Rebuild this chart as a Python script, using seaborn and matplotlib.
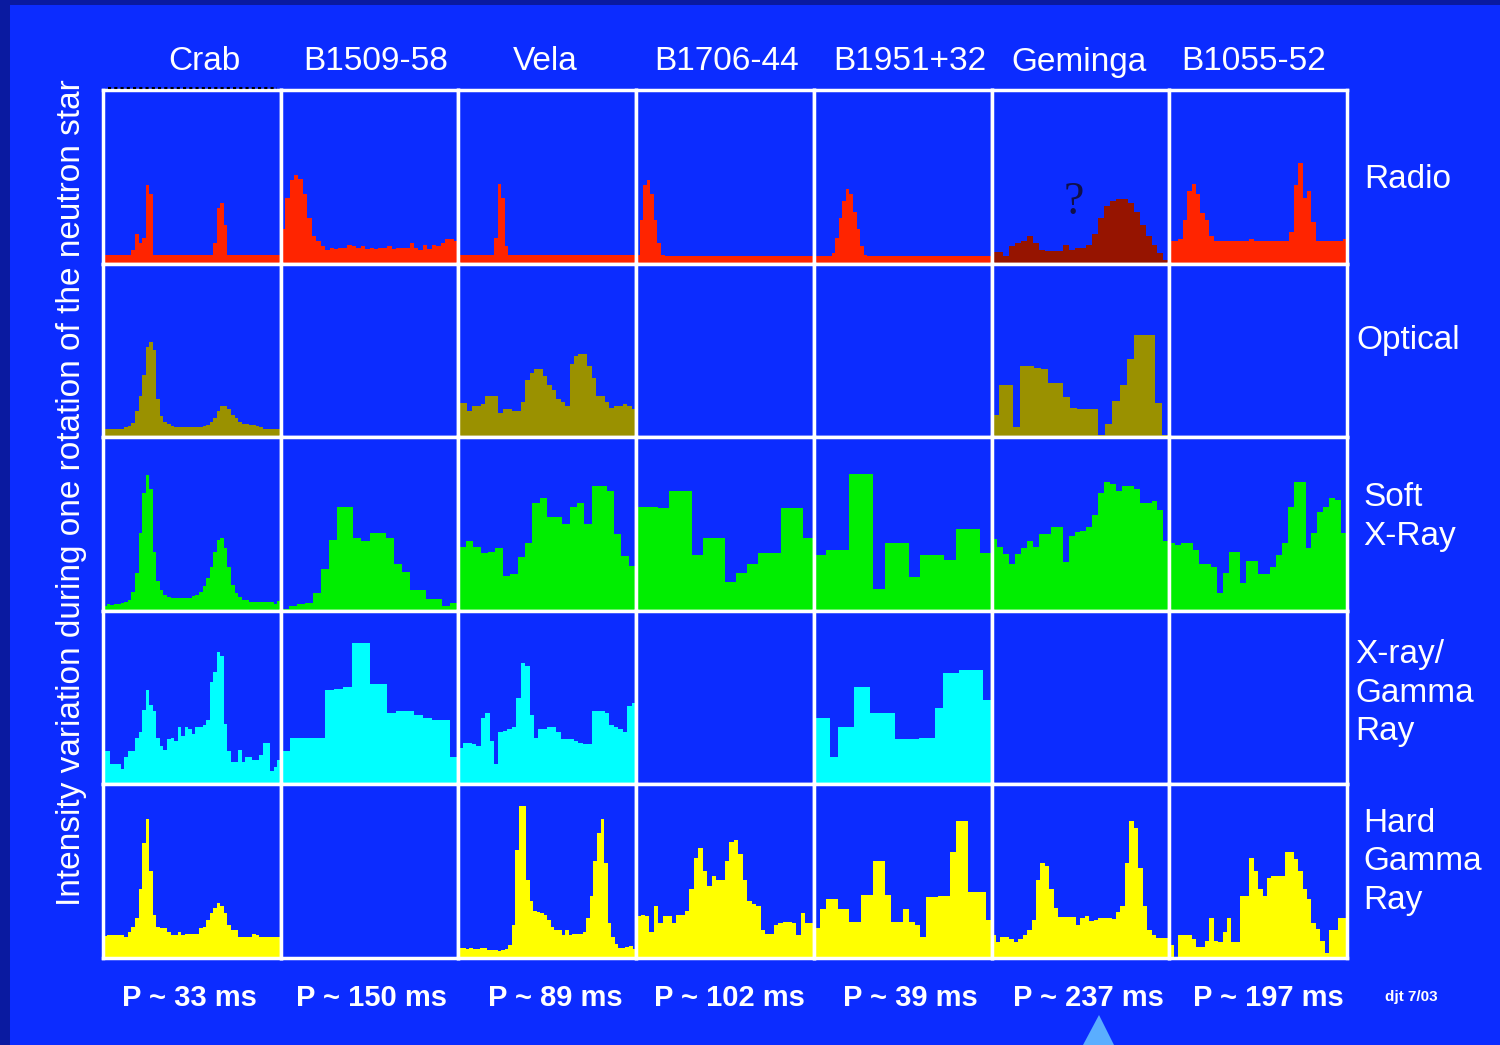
import numpy as np
import pandas as pd
import matplotlib.pyplot as plt
import seaborn as sns
from matplotlib.patches import Rectangle, Polygon
from matplotlib.lines import Line2D

pulsars = ['Crab', 'B1509-58', 'Vela', 'B1706-44', 'B1951+32', 'Geminga', 'B1055-52']
periods = ['P ~ 33 ms', 'P ~ 150 ms', 'P ~ 89 ms', 'P ~ 102 ms', 'P ~ 39 ms', 'P ~ 237 ms', 'P ~ 197 ms']
bands = ['Radio', 'Optical', 'Soft\nX-Ray', 'X-ray/\nGamma\nRay', 'Hard\nGamma\nRay']

# pulse profiles, intensity as a fraction of the panel height, equal phase bins
crab_radio = [0.05, 0.05, 0.05, 0.05, 0.05, 0.05, 0.05, 0.05, 0.08, 0.17,
              0.12, 0.15, 0.45, 0.40, 0.05, 0.05, 0.05, 0.05, 0.05, 0.05,
              0.05, 0.05, 0.05, 0.05, 0.05, 0.05, 0.05, 0.05, 0.05, 0.05,
              0.05, 0.12, 0.32, 0.35, 0.22, 0.05, 0.05, 0.05, 0.05, 0.05,
              0.05, 0.05, 0.05, 0.05, 0.05, 0.05, 0.05, 0.05, 0.05, 0.05]
b1509_radio = [0.20, 0.38, 0.48, 0.51, 0.49, 0.40, 0.26, 0.16, 0.13, 0.10,
               0.08, 0.09, 0.085, 0.09, 0.09, 0.11, 0.10, 0.09, 0.10, 0.085,
               0.09, 0.085, 0.09, 0.09, 0.10, 0.085, 0.09, 0.09, 0.09, 0.12,
               0.09, 0.08, 0.11, 0.085, 0.11, 0.10, 0.12, 0.14, 0.14, 0.13]
vela_radio = [0.05, 0.05, 0.05, 0.05, 0.05, 0.05, 0.05, 0.05, 0.05, 0.05,
              0.15, 0.46, 0.38, 0.10, 0.05, 0.05, 0.05, 0.05, 0.05, 0.05,
              0.05, 0.05, 0.05, 0.05, 0.05, 0.05, 0.05, 0.05, 0.05, 0.05,
              0.05, 0.05, 0.05, 0.05, 0.05, 0.05, 0.05, 0.05, 0.05, 0.05,
              0.05, 0.05, 0.05, 0.05, 0.05, 0.05, 0.05, 0.05, 0.05, 0.05]
b1706_radio = [0.05, 0.25, 0.45, 0.48, 0.40, 0.25, 0.12, 0.05, 0.045, 0.045,
               0.045, 0.045, 0.045, 0.045, 0.045, 0.045, 0.045, 0.045, 0.045, 0.045,
               0.045, 0.045, 0.045, 0.045, 0.045, 0.045, 0.045, 0.045, 0.045, 0.045,
               0.045, 0.045, 0.045, 0.045, 0.045, 0.045, 0.045, 0.045, 0.045, 0.045,
               0.045, 0.045, 0.045, 0.045, 0.045, 0.045, 0.045, 0.045, 0.045, 0.045]
b1951_radio = [0.045, 0.045, 0.045, 0.045, 0.045, 0.06, 0.15, 0.26, 0.36, 0.43,
               0.40, 0.30, 0.20, 0.10, 0.05, 0.045, 0.045, 0.045, 0.045, 0.045,
               0.045, 0.045, 0.045, 0.045, 0.045, 0.045, 0.045, 0.045, 0.045, 0.045,
               0.045, 0.045, 0.045, 0.045, 0.045, 0.045, 0.045, 0.045, 0.045, 0.045,
               0.045, 0.045, 0.045, 0.045, 0.045, 0.045, 0.045, 0.045, 0.045, 0.045]
geminga_radio = [0.068, 0.068, 0.044, 0.10, 0.12, 0.13, 0.16, 0.12, 0.08, 0.07,
                 0.07, 0.075, 0.11, 0.08, 0.09, 0.09, 0.11, 0.17, 0.26, 0.33,
                 0.36, 0.37, 0.37, 0.35, 0.30, 0.22, 0.16, 0.11, 0.06, 0.02]
b1055_radio = [0.13, 0.13, 0.14, 0.25, 0.42, 0.46, 0.40, 0.29, 0.25, 0.16,
               0.13, 0.13, 0.13, 0.13, 0.13, 0.13, 0.13, 0.13, 0.14, 0.13,
               0.13, 0.13, 0.13, 0.13, 0.13, 0.13, 0.13, 0.18, 0.45, 0.58,
               0.38, 0.42, 0.24, 0.13, 0.13, 0.13, 0.13, 0.13, 0.13, 0.14]

crab_optical = [0.045, 0.045, 0.045, 0.045, 0.045, 0.05, 0.06, 0.065, 0.08, 0.15,
                0.24, 0.36, 0.52, 0.55, 0.50, 0.22, 0.12, 0.09, 0.075, 0.065,
                0.06, 0.06, 0.06, 0.06, 0.06, 0.06, 0.06, 0.06, 0.065, 0.07,
                0.085, 0.11, 0.15, 0.18, 0.18, 0.16, 0.13, 0.11, 0.09, 0.075,
                0.075, 0.07, 0.07, 0.065, 0.06, 0.05, 0.05, 0.05, 0.05, 0.05]
vela_optical = [0.195, 0.195, 0.15, 0.18, 0.18, 0.19, 0.235, 0.24, 0.24, 0.14,
                0.165, 0.165, 0.15, 0.15, 0.20, 0.33, 0.37, 0.39, 0.39, 0.35,
                0.30, 0.27, 0.22, 0.20, 0.18, 0.42, 0.47, 0.48, 0.48, 0.41,
                0.34, 0.24, 0.24, 0.20, 0.17, 0.18, 0.18, 0.19, 0.18, 0.16]
geminga_optical = [0.13, 0.30, 0.30, 0.06, 0.41, 0.41, 0.40, 0.39, 0.31, 0.31,
                   0.23, 0.17, 0.165, 0.165, 0.165, 0.01, 0.075, 0.21, 0.30, 0.45,
                   0.59, 0.59, 0.59, 0.195, 0.01]

crab_soft = [0.03, 0.04, 0.035, 0.04, 0.04, 0.045, 0.05, 0.06, 0.11, 0.22,
             0.45, 0.68, 0.78, 0.70, 0.34, 0.17, 0.12, 0.09, 0.08, 0.075,
             0.075, 0.075, 0.075, 0.075, 0.075, 0.085, 0.09, 0.11, 0.14, 0.19,
             0.25, 0.34, 0.41, 0.42, 0.36, 0.25, 0.15, 0.10, 0.08, 0.065,
             0.06, 0.05, 0.05, 0.05, 0.05, 0.05, 0.05, 0.05, 0.04, 0.055]
b1509_soft = [0.01, 0.03, 0.04, 0.045, 0.10, 0.24, 0.41, 0.60, 0.60, 0.42,
              0.40, 0.45, 0.45, 0.42, 0.27, 0.225, 0.12, 0.12, 0.07, 0.07,
              0.03, 0.045]
vela_soft = [0.37, 0.40, 0.37, 0.335, 0.34, 0.36, 0.20, 0.21, 0.31, 0.39,
             0.62, 0.65, 0.54, 0.54, 0.50, 0.60, 0.62, 0.50, 0.72, 0.72,
             0.69, 0.44, 0.315, 0.26]
b1706_soft = [0.60, 0.60, 0.59, 0.69, 0.69, 0.32, 0.42, 0.42, 0.165, 0.22,
              0.27, 0.335, 0.335, 0.59, 0.59, 0.42]
b1951_soft = [0.32, 0.35, 0.35, 0.79, 0.79, 0.125, 0.39, 0.39, 0.195, 0.32,
              0.32, 0.29, 0.47, 0.47, 0.335]
geminga_soft = [0.415, 0.37, 0.33, 0.27, 0.33, 0.36, 0.40, 0.37, 0.44, 0.44,
                0.48, 0.48, 0.28, 0.43, 0.455, 0.46, 0.48, 0.55, 0.68, 0.74,
                0.73, 0.69, 0.72, 0.72, 0.70, 0.62, 0.62, 0.63, 0.58, 0.40]
b1055_soft = [0.39, 0.38, 0.39, 0.39, 0.35, 0.27, 0.27, 0.25, 0.10, 0.22,
              0.34, 0.34, 0.16, 0.285, 0.285, 0.21, 0.21, 0.25, 0.32, 0.39,
              0.60, 0.74, 0.74, 0.36, 0.45, 0.57, 0.60, 0.65, 0.64, 0.45]

crab_xgamma = [0.19, 0.19, 0.12, 0.12, 0.12, 0.09, 0.16, 0.19, 0.19, 0.27,
               0.30, 0.43, 0.545, 0.46, 0.425, 0.27, 0.22, 0.20, 0.26, 0.27,
               0.25, 0.33, 0.28, 0.33, 0.32, 0.29, 0.33, 0.33, 0.34, 0.37,
               0.59, 0.65, 0.76, 0.74, 0.35, 0.19, 0.13, 0.13, 0.20, 0.13,
               0.155, 0.155, 0.14, 0.14, 0.17, 0.24, 0.24, 0.08, 0.10, 0.14]
b1509_xgamma = [0.19, 0.27, 0.27, 0.27, 0.27, 0.545, 0.55, 0.56, 0.815, 0.815,
                0.58, 0.58, 0.41, 0.425, 0.425, 0.40, 0.38, 0.37, 0.37, 0.155]
vela_xgamma = [0.21, 0.24, 0.24, 0.23, 0.22, 0.38, 0.41, 0.25, 0.12, 0.30,
               0.31, 0.32, 0.33, 0.50, 0.70, 0.68, 0.40, 0.27, 0.32, 0.32,
               0.33, 0.33, 0.30, 0.26, 0.26, 0.26, 0.25, 0.24, 0.235, 0.23,
               0.425, 0.425, 0.425, 0.41, 0.34, 0.33, 0.32, 0.30, 0.45, 0.47]
b1951_xgamma = [0.38, 0.38, 0.155, 0.33, 0.33, 0.56, 0.56, 0.41, 0.41, 0.41,
                0.26, 0.26, 0.26, 0.27, 0.27, 0.44, 0.64, 0.64, 0.66, 0.66,
                0.66, 0.485]

crab_hard = [0.125, 0.13, 0.135, 0.135, 0.135, 0.135, 0.12, 0.15, 0.18, 0.23,
             0.40, 0.66, 0.80, 0.50, 0.25, 0.18, 0.17, 0.17, 0.15, 0.135,
             0.135, 0.15, 0.135, 0.14, 0.14, 0.14, 0.14, 0.175, 0.18, 0.22,
             0.26, 0.29, 0.315, 0.30, 0.26, 0.19, 0.16, 0.16, 0.12, 0.12,
             0.12, 0.12, 0.14, 0.135, 0.12, 0.12, 0.12, 0.12, 0.12, 0.12]
vela_hard = [0.055, 0.055, 0.05, 0.055, 0.05, 0.05, 0.06, 0.055, 0.045, 0.045,
             0.045, 0.04, 0.045, 0.05, 0.075, 0.19, 0.62, 0.875, 0.875, 0.45,
             0.33, 0.27, 0.265, 0.26, 0.245, 0.22, 0.18, 0.16, 0.16, 0.13,
             0.16, 0.13, 0.14, 0.14, 0.14, 0.15, 0.23, 0.36, 0.56, 0.72,
             0.80, 0.55, 0.20, 0.12, 0.08, 0.06, 0.06, 0.065, 0.07, 0.05]
b1706_hard = [0.24, 0.25, 0.24, 0.15, 0.30, 0.20, 0.24, 0.24, 0.20, 0.245,
              0.25, 0.27, 0.40, 0.575, 0.635, 0.50, 0.415, 0.47, 0.45, 0.45,
              0.56, 0.67, 0.68, 0.60, 0.45, 0.33, 0.31, 0.30, 0.16, 0.14,
              0.14, 0.19, 0.20, 0.21, 0.21, 0.20, 0.13, 0.26, 0.20, 0.20]
b1951_hard = [0.17, 0.28, 0.34, 0.34, 0.28, 0.28, 0.21, 0.21, 0.365, 0.365,
              0.56, 0.56, 0.365, 0.21, 0.21, 0.28, 0.21, 0.19, 0.12, 0.35,
              0.35, 0.36, 0.36, 0.61, 0.79, 0.79, 0.38, 0.38, 0.38, 0.22]
geminga_hard = [0.13, 0.095, 0.12, 0.12, 0.11, 0.095, 0.11, 0.13, 0.16, 0.22,
                0.45, 0.55, 0.53, 0.40, 0.29, 0.235, 0.235, 0.235, 0.235, 0.19,
                0.23, 0.24, 0.215, 0.22, 0.23, 0.23, 0.23, 0.225, 0.265, 0.30,
                0.55, 0.79, 0.75, 0.52, 0.30, 0.16, 0.13, 0.115, 0.115, 0.115]
b1055_hard = [0.075, 0.0, 0.13, 0.13, 0.13, 0.11, 0.065, 0.065, 0.10, 0.23,
              0.10, 0.09, 0.15, 0.23, 0.09, 0.09, 0.36, 0.36, 0.575, 0.50,
              0.40, 0.36, 0.46, 0.47, 0.47, 0.47, 0.61, 0.61, 0.57, 0.50,
              0.40, 0.34, 0.20, 0.165, 0.10, 0.03, 0.16, 0.16, 0.23, 0.23]

profiles = [
    [crab_radio, b1509_radio, vela_radio, b1706_radio, b1951_radio, geminga_radio, b1055_radio],
    [crab_optical, None, vela_optical, None, None, geminga_optical, None],
    [crab_soft, b1509_soft, vela_soft, b1706_soft, b1951_soft, geminga_soft, b1055_soft],
    [crab_xgamma, b1509_xgamma, vela_xgamma, None, b1951_xgamma, None, None],
    [crab_hard, None, vela_hard, b1706_hard, b1951_hard, geminga_hard, b1055_hard],
]
band_colors = ['#ff2400', '#9a9100', '#00ee00', '#00ffff', '#ffff00']
geminga_radio_color = '#961400'

panel_bg = '#0c2cff'
frame_bg = '#0a1aa0'

sns.set_style('white')
plt.rcParams['font.family'] = ['Liberation Sans', 'DejaVu Sans']

W, H = 1500, 1045
fig = plt.figure(figsize=(W / 100, H / 100), dpi=100, facecolor=frame_bg)
fig.add_artist(Rectangle((10 / W, 0), 1, 1 - 5 / H, transform=fig.transFigure,
                         facecolor=panel_bg, edgecolor='none', zorder=-10))

gs = fig.add_gridspec(5, 7, left=103 / W, right=1347 / W, top=1 - 90 / H,
                      bottom=1 - 958 / H, wspace=0, hspace=0)

for r in range(5):
    for c in range(7):
        ax = fig.add_subplot(gs[r, c])
        ax.set_facecolor(panel_bg)
        prof = profiles[r][c]
        if prof is not None:
            n = len(prof)
            df = pd.DataFrame({'phase': (np.arange(n) + 0.5) / n, 'intensity': prof})
            color = band_colors[r]
            if r == 0 and c == 5:
                color = geminga_radio_color
            sns.histplot(data=df, x='phase', weights='intensity', bins=n, binrange=(0, 1),
                         element='step', fill=True, color=color, alpha=1, linewidth=0, ax=ax)
        ax.set_xlim(0, 1)
        ax.set_ylim(0, 1)
        ax.set_xticks([])
        ax.set_yticks([])
        ax.set_xlabel('')
        ax.set_ylabel('')
        for s in ax.spines.values():
            s.set_color('white')
            s.set_linewidth(2.5)
            s.set_visible(True)
        if r == 0 and c == 5:
            ax.text(0.46, 0.35, '?', transform=ax.transAxes, ha='center', va='center',
                    fontsize=33, family='Liberation Serif', color='#101048')

# column headers
head_x = [204, 376, 545, 727, 910, 1079, 1254]
for x, name in zip(head_x, pulsars):
    fig.text(x / W, 1 - 62 / H, name, ha='center', va='center', fontsize=24, color='white')

# period labels
per_x = [189, 372, 555, 729, 910, 1088, 1268]
for x, p in zip(per_x, periods):
    fig.text(x / W, 1 - 998 / H, p, ha='center', va='center', fontsize=21,
             fontweight='bold', color='white')

# band labels on the right
band_pos = [(1364, 179), (1356, 341), (1363, 517), (1355, 693), (1363, 862)]
for (x, y), b in zip(band_pos, bands):
    fig.text(x / W, 1 - y / H, b, ha='left', va='center', fontsize=24, color='white',
             linespacing=1.3)

fig.text(72 / W, 1 - 493 / H, 'Intensity variation during one rotation of the neutron star',
         rotation=90, ha='center', va='center', fontsize=24, color='white')

fig.text(1411 / W, 1 - 997 / H, 'djt 7/03', ha='center', va='center', fontsize=11,
         fontweight='bold', color='white')

# small dotted marks above the Crab panel
fig.add_artist(Line2D([108 / W, 277 / W], [1 - 88 / H, 1 - 88 / H], transform=fig.transFigure,
                      color='black', linewidth=1.5, dashes=(1.5, 1.5)))

# light blue pointer at the bottom
fig.add_artist(Polygon([[1083 / W, 0], [1114 / W, 0], [1099 / W, 1 - 1015 / H]],
                       closed=True, transform=fig.transFigure, facecolor='#5aaeff',
                       edgecolor='none'))

fig.savefig('out.png', dpi=100, facecolor=fig.get_facecolor())
